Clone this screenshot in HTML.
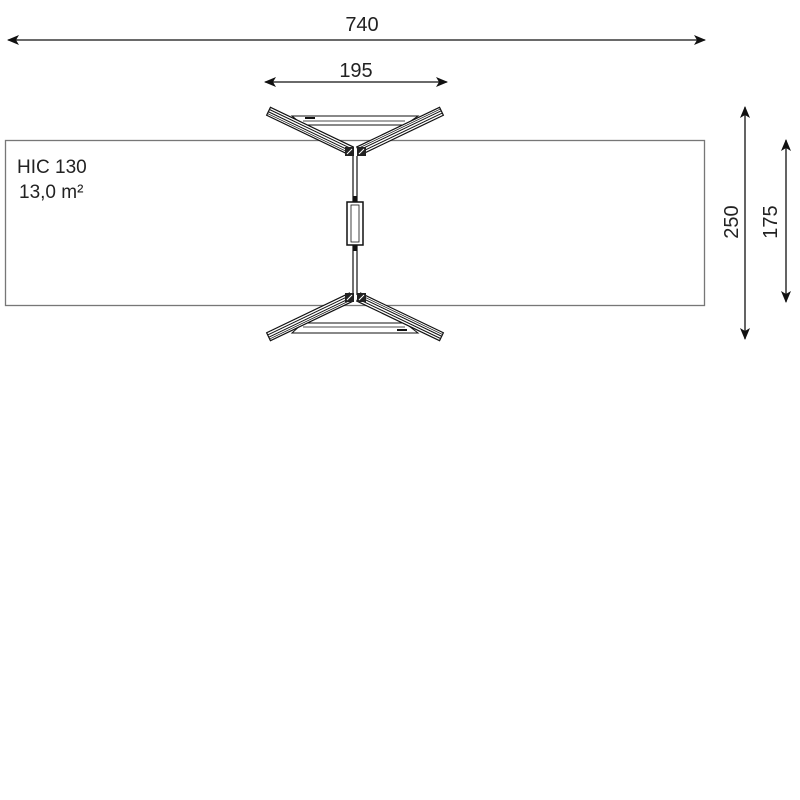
<!DOCTYPE html>
<html><head><meta charset="utf-8"><style>
html,body{margin:0;padding:0;background:#fff;}
svg{display:block;}
text{font-family:"Liberation Sans",sans-serif;fill:#222;}
</style></head><body>
<svg width="800" height="800" viewBox="0 0 800 800" xmlns="http://www.w3.org/2000/svg">
<defs>
<marker id="a" markerWidth="12" markerHeight="10" refX="11" refY="5" orient="auto-start-reverse" markerUnits="userSpaceOnUse">
<path d="M0,0 L12,5 L0,10 L3,5 Z" fill="#111"/>
</marker>
<g id="leg">
<line x1="0" y1="0" x2="93" y2="0" stroke="#111" stroke-width="10"/>
<line x1="1.2" y1="0" x2="91.8" y2="0" stroke="#fff" stroke-width="7.6"/>
<line x1="1" y1="-2" x2="92" y2="-2" stroke="#111" stroke-width="1"/>
<line x1="1" y1="0.5" x2="92" y2="0.5" stroke="#111" stroke-width="1"/>
<line x1="1" y1="2.5" x2="92" y2="2.5" stroke="#111" stroke-width="0.7"/>
</g>
</defs>
<rect x="5.5" y="140.5" width="699" height="165" fill="none" stroke="#777" stroke-width="1.3"/>
<text x="17" y="173" font-size="19">HIC 130</text>
<text x="19" y="198" font-size="19">13,0 m²</text>
<line x1="8" y1="40" x2="705" y2="40" stroke="#111" stroke-width="1.3" marker-start="url(#a)" marker-end="url(#a)"/>
<text x="362" y="31" font-size="20" text-anchor="middle">740</text>
<line x1="265" y1="82" x2="447" y2="82" stroke="#111" stroke-width="1.3" marker-start="url(#a)" marker-end="url(#a)"/>
<text x="356" y="77" font-size="20" text-anchor="middle">195</text>
<line x1="745" y1="107" x2="745" y2="339" stroke="#111" stroke-width="1.3" marker-start="url(#a)" marker-end="url(#a)"/>
<text x="0" y="0" font-size="20" text-anchor="middle" transform="translate(738,222) rotate(-90)">250</text>
<line x1="786" y1="140" x2="786" y2="302" stroke="#111" stroke-width="1.3" marker-start="url(#a)" marker-end="url(#a)"/>
<text x="0" y="0" font-size="20" text-anchor="middle" transform="translate(777,222) rotate(-90)">175</text>
<polygon points="292,116 418,116 405,125 303,125" fill="#fff" stroke="#111" stroke-width="1"/>
<line x1="303" y1="121" x2="405" y2="121" stroke="#111" stroke-width="0.8"/>
<rect x="305" y="117" width="10" height="2" fill="#111"/>
<g transform="translate(268,111) rotate(25.6)"><use href="#leg"/></g>
<g transform="translate(442,111) rotate(154.4)"><use href="#leg"/></g>
<polygon points="292,333 418,333 405,323 303,323" fill="#fff" stroke="#111" stroke-width="1"/>
<line x1="303" y1="327" x2="405" y2="327" stroke="#111" stroke-width="0.8"/>
<rect x="397" y="329" width="10" height="2" fill="#111"/>
<g transform="translate(268,337) rotate(-25.6)"><use href="#leg"/></g>
<g transform="translate(442,337) rotate(-154.4)"><use href="#leg"/></g>
<line x1="353" y1="156" x2="353" y2="295" stroke="#111" stroke-width="1.2"/>
<line x1="357" y1="156" x2="357" y2="295" stroke="#111" stroke-width="1.2"/>
<rect x="347" y="202" width="16" height="43" fill="#fff" stroke="#111" stroke-width="1.5"/>
<rect x="351" y="205" width="8" height="37" fill="none" stroke="#111" stroke-width="0.8"/>
<rect x="353" y="196" width="4" height="6" fill="#111"/>
<rect x="353" y="245" width="4" height="6" fill="#111"/>
<rect x="345" y="147" width="9" height="9" fill="#222"/>
<rect x="357" y="147" width="9" height="9" fill="#222"/>
<rect x="345" y="293" width="9" height="9" fill="#222"/>
<rect x="357" y="293" width="9" height="9" fill="#222"/>
<path d="M347,154 L352,149 M359,154 L364,149 M347,300 L352,295 M359,300 L364,295" stroke="#fff" stroke-width="1"/>
</svg>
</body></html>
